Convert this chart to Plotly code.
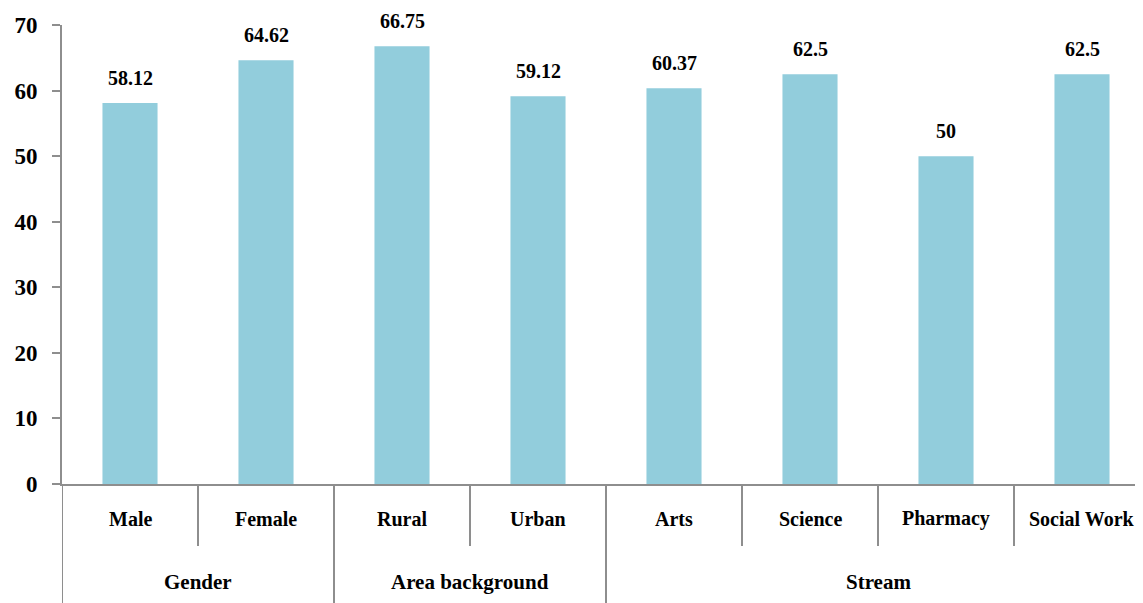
import plotly.graph_objects as go

categories = ["Male", "Female", "Rural", "Urban", "Arts", "Science", "Pharmacy", "Social Work"]
values = [58.12, 64.62, 66.75, 59.12, 60.37, 62.5, 50, 62.5]
value_labels = ["58.12", "64.62", "66.75", "59.12", "60.37", "62.5", "50", "62.5"]
groups = ["Gender", "Area background", "Stream"]
group_sizes = [2, 2, 4]
y_ticks = [0, 10, 20, 30, 40, 50, 60, 70]

BAR = "#92CDDC"
AX = "#8e8e8e"
FONT = "Liberation Serif"

fig = go.Figure()
fig.add_trace(go.Bar(
    x=list(range(len(categories))), y=values,
    marker=dict(color=BAR, line=dict(width=0)),
    width=0.405,
    hoverinfo="skip",
))

shapes = []
annotations = []
short_y, long_y = -0.135, -0.3
group_edges = [-0.5]
acc = -0.5
for s in group_sizes:
    acc += s
    group_edges.append(acc)
for i in range(len(categories)):
    edge = i - 0.5
    y1 = long_y if edge in group_edges else short_y
    shapes.append(dict(type="line", xref="x", yref="paper", x0=edge, x1=edge,
                       y0=0, y1=y1, line=dict(color=AX, width=2)))
for i, (v, t) in enumerate(zip(values, value_labels)):
    annotations.append(dict(x=i, y=v, xref="x", yref="y", text="<b>%s</b>" % t,
                            showarrow=False, yanchor="bottom", yshift=12,
                            font=dict(family=FONT, size=20, color="black")))
for i, c in enumerate(categories):
    annotations.append(dict(x=i, y=-0.076, xref="x", yref="paper", text="<b>%s</b>" % c,
                            showarrow=False, font=dict(family=FONT, size=20, color="black"),
                            yanchor="middle"))
start = 0
for g, s in zip(groups, group_sizes):
    center = start + (s - 1) / 2
    annotations.append(dict(x=center, y=-0.214, xref="x", yref="paper", text="<b>%s</b>" % g,
                            showarrow=False, font=dict(family=FONT, size=21, color="black"),
                            yanchor="middle"))
    start += s

fig.update_layout(
    width=1142, height=603,
    margin=dict(l=54, r=0, t=17, b=127),
    plot_bgcolor="white", paper_bgcolor="white",
    showlegend=False,
    shapes=shapes, annotations=annotations,
    xaxis=dict(range=[-0.5, 7.5], showticklabels=False, ticks="", showgrid=False,
               showline=True, linecolor=AX, linewidth=2, zeroline=False,
               tickvals=list(range(len(categories)))),
    yaxis=dict(range=[0, 70], tickvals=y_ticks, ticks="outside", ticklen=8, tickwidth=2,
               tickcolor=AX, showline=True, linecolor=AX, linewidth=2, showgrid=False,
               zeroline=False, ticklabelstandoff=10,
               tickfont=dict(family=FONT, size=23, color="black", weight="bold")),
)
fig.write_html("out.html")
